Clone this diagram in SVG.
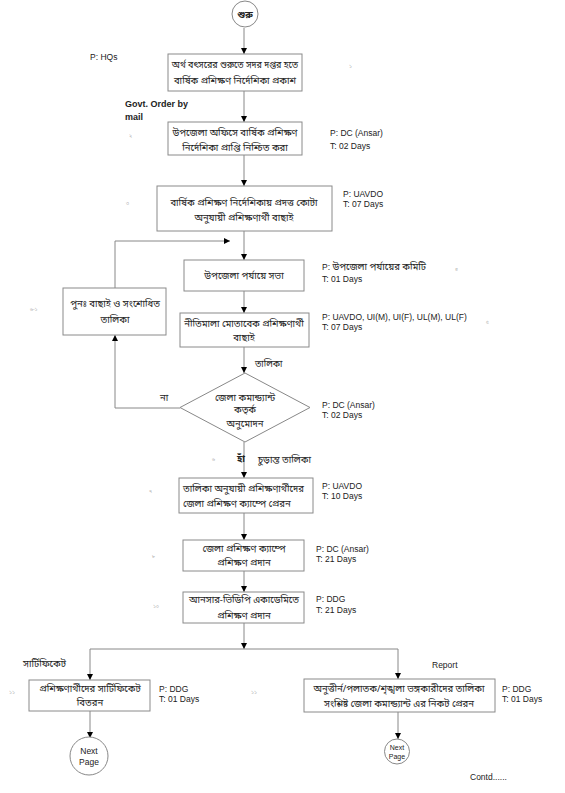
<svg xmlns="http://www.w3.org/2000/svg" width="565" height="793" viewBox="0 0 565 793">
<style>
.box{fill:#fff;stroke:#8a8a8a;stroke-width:1}
.ln{fill:none;stroke:#888;stroke-width:1}
.bn{font-family:"Noto Sans Bengali","Noto Sans","Liberation Sans",sans-serif;font-size:9.5px;fill:#222}
.en{font-family:"Liberation Sans",Arial,sans-serif;font-size:8.5px;fill:#222}
.enb{font-family:"Liberation Sans",Arial,sans-serif;font-size:9px;font-weight:bold;fill:#222}
.num{font-family:"Noto Sans Bengali","Noto Sans",sans-serif;font-size:5px;fill:#aaa}
.c{text-anchor:middle}
</style>
<defs>
<marker id="ah" viewBox="0 0 10 10" refX="10" refY="5" markerWidth="6" markerHeight="6" markerUnits="userSpaceOnUse" orient="auto">
<path d="M0,0 L10,5 L0,10 z" fill="#000"/>
</marker>
</defs>
<rect width="565" height="793" fill="#fff"/>

<g id="connectors">
<line class="ln" x1="244" y1="28" x2="244" y2="54" marker-end="url(#ah)"/>
<line class="ln" x1="244" y1="91" x2="244" y2="122" marker-end="url(#ah)"/>
<line class="ln" x1="244" y1="155" x2="244" y2="186" marker-end="url(#ah)"/>
<line class="ln" x1="244" y1="231" x2="244" y2="260" marker-end="url(#ah)"/>
<line class="ln" x1="244" y1="291" x2="244" y2="313" marker-end="url(#ah)"/>
<line class="ln" x1="244" y1="347" x2="244" y2="373" marker-end="url(#ah)"/>
<line class="ln" x1="244" y1="442" x2="244" y2="478" marker-end="url(#ah)"/>
<line class="ln" x1="244" y1="513" x2="244" y2="540" marker-end="url(#ah)"/>
<line class="ln" x1="244" y1="571" x2="244" y2="592" marker-end="url(#ah)"/>
<line class="ln" x1="244" y1="623" x2="244" y2="649" marker-end="url(#ah)"/>
<line class="ln" x1="90" y1="649" x2="398" y2="649"/>
<line class="ln" x1="90" y1="649" x2="90" y2="680" marker-end="url(#ah)"/>
<line class="ln" x1="398" y1="649" x2="398" y2="679" marker-end="url(#ah)"/>
<line class="ln" x1="90" y1="711" x2="90" y2="738" marker-end="url(#ah)"/>
<line class="ln" x1="398" y1="712" x2="398" y2="739" marker-end="url(#ah)"/>
<polyline class="ln" points="180,408 115,408 115,335" marker-end="url(#ah)"/>
<polyline class="ln" points="115,288 115,241 230,241" marker-end="url(#ah)"/>
</g>

<g id="start">
<circle cx="245" cy="14" r="13" fill="#fff" stroke="#888"/>
<text class="bn c" x="245" y="18" style="font-weight:bold">শুরু</text>
</g>

<g id="n1">
<rect class="box" x="168" y="54" width="134" height="37"/>
<text class="bn c" x="235" y="68" style="font-size:9px">অর্থ বৎসরের শুরুতে সদর দপ্তর হতে</text>
<text class="bn c" x="235" y="84">বার্ষিক প্রশিক্ষণ নির্দেশিকা প্রকাশ</text>
<text class="en" x="90" y="60">P: HQs</text>
<text class="num" x="349" y="68">১</text>
</g>

<g id="lbl-govt">
<text class="enb" x="125" y="107">Govt. Order  by</text>
<text class="enb" x="125" y="120">mail</text>
</g>

<g id="n2">
<rect class="box" x="168" y="122" width="134" height="33"/>
<text class="bn c" x="235" y="136">উপজেলা অফিসে বার্ষিক প্রশিক্ষণ</text>
<text class="bn c" x="235" y="151">নির্দেশিকা প্রাপ্তি নিশ্চিত করা</text>
<text class="en" x="330" y="136">P: DC (Ansar)</text>
<text class="en" x="330" y="149">T: 02 Days</text>
<text class="num" x="129" y="137">২</text>
</g>

<g id="n3">
<rect class="box" x="157" y="186" width="175" height="45"/>
<text class="bn c" x="244" y="206">বার্ষিক প্রশিক্ষণ নির্দেশিকায় প্রদত্ত কোটা</text>
<text class="bn c" x="244" y="221">অনুযায়ী প্রশিক্ষণার্থী বাছাই</text>
<text class="en" x="343" y="197">P: UAVDO</text>
<text class="en" x="343" y="207">T: 07 Days</text>
<text class="num" x="126" y="205">৩</text>
</g>

<g id="n4">
<rect class="box" x="184" y="260" width="120" height="31"/>
<text class="bn c" x="244" y="279">উপজেলা পর্যায়ে সভা</text>
<text class="en" x="322" y="270"><tspan>P: </tspan><tspan class="bn" style="font-size:9.5px">উপজেলা পর্যায়ের কমিটি</tspan></text>
<text class="en" x="322" y="282">T: 01 Days</text>
<text class="num" x="455" y="271">৪</text>
</g>

<g id="n5">
<rect class="box" x="180" y="313" width="129" height="34"/>
<text class="bn c" x="244" y="327">নীতিমালা মোতাবেক প্রশিক্ষণার্থী</text>
<text class="bn c" x="244" y="341">বাছাই</text>
<text class="en" x="322" y="320">P: UAVDO, UI(M), UI(F), UL(M), UL(F)</text>
<text class="en" x="322" y="330">T: 07 Days</text>
<text class="num" x="486" y="324">৫</text>
</g>

<g id="n6-1">
<rect class="box" x="63" y="288" width="103" height="47"/>
<text class="bn c" x="115" y="307">পুনঃ  বাছাই ও সংশোধিত</text>
<text class="bn c" x="115" y="323">তালিকা</text>
<text class="num" x="30" y="311">৬-১</text>
</g>

<g id="n6">
<polygon points="245,373 310,407.5 245,442 180,407.5" fill="#fff" stroke="#888"/>
<text class="bn c" x="245" y="401">জেলা কমান্ড্যান্ট</text>
<text class="bn c" x="245" y="413">কতৃর্ক</text>
<text class="bn c" x="245" y="427">অনুমোদন</text>
<text class="en" x="322" y="408">P: DC (Ansar)</text>
<text class="en" x="322" y="418">T: 02 Days</text>
<text class="num" x="212" y="461">৬</text>
</g>

<g id="edge-labels">
<text class="bn" x="255" y="367" style="font-size:9px">তালিকা</text>
<text class="bn" x="160" y="401">না</text>
<text class="bn" x="237" y="462" style="font-weight:bold">হাঁ</text>
<text class="bn" x="258" y="463">চুড়ান্ত তালিকা</text>
<text class="bn" x="23" y="667">সার্টিফিকেট</text>
<text class="en" x="432" y="668">Report</text>
</g>

<g id="n7">
<rect class="box" x="179" y="478" width="134" height="35"/>
<text class="bn" x="183" y="492">তালিকা অনুযায়ী প্রশিক্ষণার্থীদের</text>
<text class="bn" x="183" y="507">জেলা প্রশিক্ষণ ক্যাম্পে প্রেরন</text>
<text class="en" x="322" y="489">P: UAVDO</text>
<text class="en" x="322" y="499">T: 10 Days</text>
<text class="num" x="149" y="493">৭</text>
</g>

<g id="n8">
<rect class="box" x="183" y="540" width="121" height="31"/>
<text class="bn c" x="244" y="552">জেলা প্রশিক্ষণ ক্যাম্পে</text>
<text class="bn c" x="244" y="566">প্রশিক্ষণ প্রদান</text>
<text class="en" x="316" y="552">P: DC (Ansar)</text>
<text class="en" x="316" y="562">T: 21 Days</text>
<text class="num" x="152" y="558">৮</text>
</g>

<g id="n9">
<rect class="box" x="183" y="592" width="121" height="31"/>
<text class="bn c" x="244" y="603">আনসার-ভিডিপি একাডেমিতে</text>
<text class="bn c" x="244" y="619">প্রশিক্ষণ প্রদান</text>
<text class="en" x="316" y="602">P: DDG</text>
<text class="en" x="316" y="613">T: 21 Days</text>
<text class="num" x="153" y="608">১০</text>
</g>

<g id="n10">
<rect class="box" x="29" y="680" width="121" height="31"/>
<text class="bn c" x="90" y="692">প্রশিক্ষণার্থীদের  সার্টিফিকেট</text>
<text class="bn c" x="90" y="706">বিতরন</text>
<text class="en" x="159" y="692">P: DDG</text>
<text class="en" x="159" y="702">T: 01 Days</text>
<text class="num" x="9" y="694">১১</text>
</g>

<g id="n11">
<rect class="box" x="304" y="679" width="191" height="33"/>
<text class="bn c" x="399" y="692">অনুত্তীর্ন/পলাতক/শৃঙ্খলা ভঙ্গকারীদের তালিকা</text>
<text class="bn c" x="399" y="707">সংশ্লিষ্ট জেলা কমান্ড্যান্ট এর নিকট প্রেরন</text>
<text class="en" x="502" y="692">P: DDG</text>
<text class="en" x="502" y="702">T: 01 Days</text>
<text class="num" x="251" y="694">১১</text>
</g>

<g id="next1">
<circle cx="89" cy="756" r="19" fill="#fff" stroke="#888"/>
<text class="en c" x="89" y="754">Next</text>
<text class="en c" x="89" y="765">Page</text>
</g>

<g id="next2">
<circle cx="397" cy="751.5" r="12.5" fill="#fff" stroke="#888"/>
<text class="en c" x="397" y="750" style="font-size:7px">Next</text>
<text class="en c" x="397" y="758.5" style="font-size:7px">Page</text>
</g>

<text class="en" x="470" y="780">Contd......</text>
</svg>
